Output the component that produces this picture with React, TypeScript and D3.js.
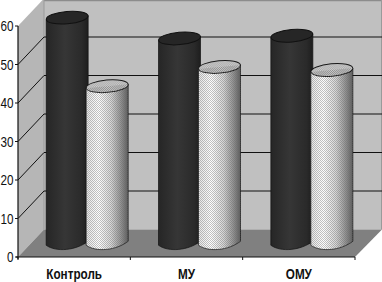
import React from "react";
import * as d3 from "d3";

const categories = ["Контроль", "МУ", "ОМУ"];
const darkValues = [58.6, 53.2, 53.9];
const lightValues = [40.8, 45.8, 45];
const yTicks = [0, 10, 20, 30, 40, 50, 60];

const W = 382;
const H = 282;
const left = 18;
const right = 355;
const y0 = 257;
const y60 = 26;
const depthX = 26;
const depthY = 27.5;
const barW = 42;
const barOverlap = 2;

const x = d3.scaleBand<string>().domain(categories).range([left, right]);
const y = d3.scaleLinear().domain([0, 60]).range([y0, y60]);

const poly = (pts: [number, number][]) => d3.line()(pts) + "Z";

// one cylinder, sits mid depth on the floor
function Bar({ cx, value, fill, top, line = true }: { cx: number; value: number; fill: string; top: string; line?: boolean }) {
  const base = y(0) - depthY / 2;
  const yTop = y(value) - depthY / 2;
  const rx = barW / 2;
  const ry = 6.2;
  const tilt = 2;
  const x0 = cx - rx;
  const x1 = cx + rx;
  const body = d3.path();
  body.moveTo(x0, yTop + tilt);
  body.lineTo(x0, base + tilt);
  body.bezierCurveTo(x0 + 10, base + ry + 3, x1 - 12, base + ry + 1, x1, base - tilt);
  body.lineTo(x1, yTop - tilt);
  body.closePath();
  const stroke = line ? "#111" : "none";
  return (
    <g>
      <path d={body.toString()} fill={fill} stroke={stroke} strokeWidth={0.7} />
      <ellipse
        cx={cx}
        cy={yTop}
        rx={rx}
        ry={ry}
        fill={top}
        stroke={stroke}
        strokeWidth={1}
        transform={`rotate(-5 ${cx} ${yTop})`}
      />
    </g>
  );
}

export default function App() {
  const font = "'Liberation Sans', sans-serif";
  const ticksX = [...categories.map((c) => x(c)!), right];
  return (
    <svg
      width={W}
      height={H}
      style={{ position: "absolute", left: 0, top: 0, background: "#fff" }}
      fontFamily={font}
    >
      <defs>
        <linearGradient id="darkGrad" x1="0" x2="1" y1="0" y2="0">
          <stop offset="0" stopColor="#262626" />
          <stop offset="0.45" stopColor="#363636" />
          <stop offset="0.85" stopColor="#2a2a2a" />
          <stop offset="1" stopColor="#1e1e1e" />
        </linearGradient>
        <linearGradient id="lightGrad" x1="0" x2="1" y1="0" y2="0">
          <stop offset="0" stopColor="#e4e4e4" />
          <stop offset="0.3" stopColor="#ffffff" />
          <stop offset="0.6" stopColor="#d4d4d4" />
          <stop offset="0.85" stopColor="#8c8c8c" />
          <stop offset="1" stopColor="#5c5c5c" />
        </linearGradient>
        <pattern id="dots" width="2" height="2" patternUnits="userSpaceOnUse">
          <rect x="0" y="0" width="1" height="1" fill="#666" opacity={0.4} />
          <rect x="1" y="1" width="1" height="1" fill="#666" opacity={0.4} />
        </pattern>
      </defs>

      {/* walls and floor */}
      <path
        d={poly([[left + depthX, y(60) - depthY], [W, y(60) - depthY], [W, y(0) - depthY], [left + depthX, y(0) - depthY]])}
        fill="#c0c0c0"
      />
      <path
        d={poly([[left, y(60)], [left + depthX, y(60) - depthY], [left + depthX, y(0) - depthY], [left, y(0)]])}
        fill="#b6b6b6"
      />
      <path
        d={poly([[left, y(0)], [left + depthX, y(0) - depthY], [W, y(0) - depthY], [right, y(0)]])}
        fill="#808080"
      />
      <line x1={left + depthX} x2={W} y1={0.5} y2={0.5} stroke="#8c8c8c" strokeWidth={1.5} />
      <line x1={left + depthX} x2={left + depthX} y1={0} y2={y(0) - depthY} stroke="#9a9a9a" />
      <line x1={W - 0.5} x2={W - 0.5} y1={0} y2={y(0) - depthY} stroke="#9a9a9a" />

      {/* gridlines */}
      {yTicks.filter((t) => t > 0 && t < 60).map((t) => (
        <g key={t} stroke="#111" strokeWidth={1}>
          <line x1={left} y1={y(t)} x2={left + depthX} y2={y(t) - depthY} />
          <line x1={left + depthX} y1={y(t) - depthY} x2={W} y2={y(t) - depthY} />
        </g>
      ))}

      {/* bars */}
      {categories.map((c, i) => {
        const mid = x(c)! + x.bandwidth() / 2 + depthX / 2;
        const cxDark = mid - barW / 2 + barOverlap / 2;
        const cxLight = mid + barW / 2 - barOverlap / 2;
        return (
          <g key={c}>
            <Bar cx={cxDark} value={darkValues[i]} fill="url(#darkGrad)" top="#262626" />
            <Bar cx={cxLight} value={lightValues[i]} fill="url(#lightGrad)" top="#d0d0d0" />
            <Bar cx={cxLight} value={lightValues[i]} fill="url(#dots)" top="url(#dots)" line={false} />
          </g>
        );
      })}

      {/* axes */}
      <line x1={left} x2={left} y1={y(60)} y2={y(0) + 2} stroke="#111" strokeWidth={1.2} />
      <line x1={left - 2} x2={right} y1={y(0)} y2={y(0)} stroke="#111" strokeWidth={1.2} />
      {yTicks.map((t) => (
        <g key={t}>
          <line x1={left - 3} x2={left} y1={y(t)} y2={y(t)} stroke="#111" />
          <text
            transform={`translate(13.5 ${y(t) + 5}) scale(0.78 1)`}
            fontSize={15}
            textAnchor="end"
            fill="#111"
          >
            {t}
          </text>
        </g>
      ))}
      {ticksX.map((tx) => (
        <line key={tx} x1={tx} x2={tx} y1={y(0)} y2={y(0) + 3} stroke="#111" />
      ))}
      {categories.map((c) => (
        <text
          key={c}
          transform={`translate(${x(c)! + x.bandwidth() / 2} 279) scale(0.78 1)`}
          fontSize={15}
          fontWeight="bold"
          textAnchor="middle"
          fill="#111"
        >
          {c}
        </text>
      ))}
    </svg>
  );
}
